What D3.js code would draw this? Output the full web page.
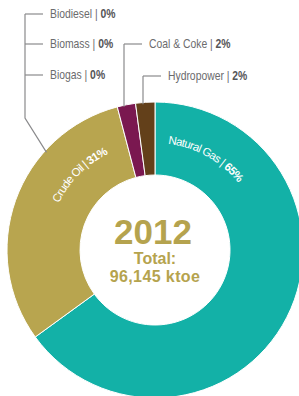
<!DOCTYPE html>
<html>
<head>
<meta charset="utf-8">
<script src="https://cdn.jsdelivr.net/npm/d3@7"></script>
<style>
  html, body { margin: 0; padding: 0; background: #fff; }
  svg { display: block; }
  .narrow { font-family: 'Liberation Sans', Arial, sans-serif; }
  .callout { font-size: 12.5px; fill: #6b6b6d; }
  .callout tspan.pct { font-weight: bold; fill: #555557; }
  .slice-label { font-size: 11.5px; fill: #fff; letter-spacing: -0.7px; }
  .slice-label tspan.pct { font-weight: bold; }
  .center-text { font-family: 'Liberation Sans', Arial, sans-serif; font-weight: bold; fill: #b5a34e; text-anchor: middle; }
</style>
</head>
<body>
<svg id="chart" width="299" height="396"></svg>
<script>
// energy sources, in pie order (clockwise from 12 o'clock)
const sources = ['Natural Gas', 'Crude Oil', 'Coal & Coke', 'Hydropower', 'Biodiesel', 'Biomass', 'Biogas']
const shares = [65.0, 30.9, 2.0, 2.1, 0, 0, 0]
const shareLabels = ['65%', '31%', '2%', '2%', '0%', '0%', '0%']
const colors = ['#13b1a7', '#b8a54f', '#7a1850', '#63401a', '#999', '#999', '#999']

const year = '2012'
const totalLabel = 'Total:'
const totalValue = '96,145 ktoe'

const cx = 155
const cy = 250
const outerR = 148
const innerR = 75
const condense = 0.83 // narrow the callouts, like a condensed face

const svg = d3.select('#chart')
const g = svg.append('g').attr('transform', 'translate(' + cx + ',' + cy + ')')

const pie = d3.pie().sort(null).value(d => d.value)
const arcs = pie(sources.map((s, i) => ({ name: s, value: shares[i], pct: shareLabels[i], color: colors[i] })))
const arc = d3.arc().innerRadius(innerR).outerRadius(outerR)

/**
 * Draws the donut slices, with thin white separators.
 */
function drawSlices () {
  g.selectAll('path.slice')
    .data(arcs.filter(d => d.data.value > 0))
    .join('path')
    .attr('class', 'slice')
    .attr('d', arc)
    .attr('fill', d => d.data.color)
    .attr('stroke', '#fff')
    .attr('stroke-width', 1)
}

/**
 * Writes a label that follows the ring, clockwise, inside a slice.
 *
 * @param {*} d The pie datum of the slice
 * @param {number} startDeg Angle (degrees from top) where the text starts
 * @param {string} id Id for the guide path
 */
function drawRingLabel (d, startDeg, id) {
  const r = 107
  const a0 = startDeg * Math.PI / 180
  const p = d3.path()
  p.arc(0, 0, r, a0 - Math.PI / 2, a0 + Math.PI / 2 - 0.0001)
  g.append('path').attr('id', id).attr('d', p.toString()).attr('fill', 'none')
  const t = g.append('text').attr('class', 'slice-label narrow')
    .append('textPath').attr('href', '#' + id)
  t.append('tspan').text(d.data.name + ' | ')
  t.append('tspan').attr('class', 'pct').text(d.data.pct)
}

/**
 * Draws a callout: leader line from the ring up to a text label.
 *
 * @param {Array} names Names of the sources in the callout group
 * @param {number} anchorDeg Angle where the leader meets the ring
 * @param {number} lineX X of the vertical leader
 * @param {number} bendY Y where the leader bends toward the ring (or null)
 * @param {Array} ys Label mid lines
 */
function drawCallout (names, anchorDeg, lineX, bendY, ys) {
  const a = anchorDeg * Math.PI / 180
  const ex = cx + (outerR - 2) * Math.sin(a)
  const ey = cy - (outerR - 2) * Math.cos(a)
  const pts = [[lineX, ys[0]]]
  if (bendY != null) {
    pts.push([lineX, bendY])
    pts.push([ex, ey])
  } else {
    pts.push([lineX, ey])
  }
  svg.append('path')
    .attr('d', d3.line()(pts))
    .attr('fill', 'none')
    .attr('stroke', '#8a8a8c')
    .attr('stroke-width', 1.2)

  names.forEach((name, i) => {
    const d = arcs.find(a => a.data.name === name)
    svg.append('line')
      .attr('x1', lineX).attr('x2', lineX + 18)
      .attr('y1', ys[i]).attr('y2', ys[i])
      .attr('stroke', '#8a8a8c')
      .attr('stroke-width', 1.2)
    const t = svg.append('text').attr('class', 'callout narrow')
      .attr('transform', 'translate(' + (lineX + 25) + ',' + ys[i] + ') scale(' + condense + ',1)')
      .attr('dy', '0.35em')
    t.append('tspan').text(name + ' | ')
    t.append('tspan').attr('class', 'pct').text(d.data.pct)
  })
}

/**
 * Puts the year and total in the hole of the donut.
 */
function drawCenter () {
  g.append('text').attr('class', 'center-text')
    .attr('x', -2).attr('y', -6)
    .attr('font-size', 35)
    .text(year)
  g.append('text').attr('class', 'center-text')
    .attr('y', 14)
    .attr('font-size', 16)
    .text(totalLabel)
  g.append('text').attr('class', 'center-text')
    .attr('y', 32)
    .attr('font-size', 16)
    .attr('letter-spacing', 0.4)
    .text(totalValue)
}

drawSlices()
drawRingLabel(arcs[0], 7, 'gas-path')
drawRingLabel(arcs[1], 296, 'oil-path')

drawCallout(['Biodiesel', 'Biomass', 'Biogas'], 312, 25, 118, [14, 44, 75])

const coal = arcs[2]
const hydro = arcs[3]
drawCallout(['Coal & Coke'], (coal.startAngle + coal.endAngle) / 2 * 180 / Math.PI, 124, null, [44])
drawCallout(['Hydropower'], (hydro.startAngle + hydro.endAngle) / 2 * 180 / Math.PI, 143, null, [76])

drawCenter()
</script>
</body>
</html>
